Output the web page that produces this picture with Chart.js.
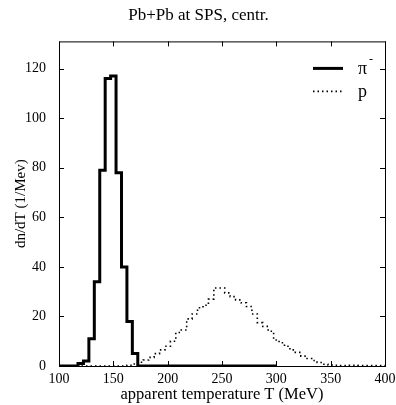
<!DOCTYPE html>
<html>
<head>
<meta charset="utf-8">
<script src="https://cdn.jsdelivr.net/npm/chart.js@4/dist/chart.umd.min.js"></script>
<style>
  body { margin: 0; background: #fff; }
  #wrap { width: 396px; height: 405px; }
</style>
</head>
<body>
<div id="wrap"><canvas id="grafica"></canvas></div>
<script>
// =============================
// Datos
// =============================
const tituloGrafica = "Pb+Pb at SPS, centr.";
const tituloX = "apparent temperature T (MeV)";
const tituloY = "dn/dT (1/Mev)";

const xTicks = [100, 150, 200, 250, 300, 350, 400];
const yTicks = [0, 20, 40, 60, 80, 100, 120];

// pi- (histograma, centros de bin en MeV)
const pionT = [100, 115, 120, 125, 130, 135, 140, 145, 150, 155, 160, 165, 170, 175, 300];
const pionN = [0, 0, 1, 2, 11, 34, 79, 116, 117, 78, 40, 18, 5, 0, 0];

// protones
const protonT = [100, 160, 165, 170, 175, 180, 185, 190, 195, 200, 205, 210, 215, 220, 225, 230,
  235, 240, 245, 250, 255, 260, 265, 270, 275, 280, 285, 290, 295, 300, 305, 310, 315, 320,
  325, 330, 335, 340, 345, 350, 355, 360, 370, 380, 390, 400];
const protonN = [0, 0, 0.3, 0.8, 1.5, 2.4, 3.5, 5, 6.5, 8, 10, 13.5, 14.5, 19, 21, 23.5,
  24.5, 27, 31.5, 31.5, 29.5, 28, 26.7, 25.5, 24, 21, 17.5, 16, 14, 10.5, 9.4, 8, 6.5, 5.5,
  4, 3, 2.2, 1.4, 0.7, 0.4, 0.3, 0.2, 0.3, 0.2, 0.2, 0.2];

const fuente = "'Liberation Serif', 'DejaVu Serif', serif";

// marco, marcas hacia dentro y leyenda
const marcoPlugin = {
  id: "marco",
  afterDatasetsDraw(chart) {
    const { ctx, chartArea: a, scales } = chart;
    ctx.save();
    ctx.strokeStyle = "#000";
    ctx.lineWidth = 1;
    ctx.strokeRect(a.left + 0.5, a.top + 0.5, a.right - a.left, a.bottom - a.top);
    ctx.beginPath();
    xTicks.forEach(v => {
      const x = Math.round(scales.x.getPixelForValue(v)) + 0.5;
      ctx.moveTo(x, a.bottom); ctx.lineTo(x, a.bottom - 5);
      ctx.moveTo(x, a.top); ctx.lineTo(x, a.top + 5);
    });
    yTicks.forEach(v => {
      const y = Math.round(scales.y.getPixelForValue(v)) + 0.5;
      ctx.moveTo(a.left, y); ctx.lineTo(a.left + 5, y);
      ctx.moveTo(a.right, y); ctx.lineTo(a.right - 5, y);
    });
    ctx.stroke();

    // leyenda
    const x0 = a.right - 72, x1 = a.right - 42;
    chart.data.datasets.forEach((ds, i) => {
      const y = a.top + 27 + i * 23;
      ctx.beginPath();
      ctx.lineWidth = ds.borderWidth;
      ctx.setLineDash(ds.borderDash || []);
      ctx.moveTo(x0, y); ctx.lineTo(x1, y);
      ctx.stroke();
      ctx.setLineDash([]);
      ctx.fillStyle = "#000";
      ctx.font = "18px " + fuente;
      ctx.textBaseline = "middle";
      ctx.fillText(ds.label, x1 + 15, y + 1);
      if (ds.sup) {
        ctx.font = "12px " + fuente;
        ctx.fillText(ds.sup, x1 + 26, y - 9);
      }
    });
    ctx.restore();
  }
};

const ctx = document.getElementById("grafica").getContext("2d");
new Chart(ctx, {
  type: "line",
  data: {
    datasets: [
      {
        label: "π",
        sup: "-",
        data: pionT.map((t, i) => ({ x: t, y: pionN[i] })),
        borderColor: "#000",
        borderWidth: 3,
        stepped: "middle",
        pointRadius: 0,
        fill: false
      },
      {
        label: "p",
        data: protonT.map((t, i) => ({ x: t, y: protonN[i] })),
        borderColor: "#000",
        borderWidth: 1.6,
        borderDash: [1.5, 3],
        stepped: "middle",
        pointRadius: 0,
        fill: false
      }
    ]
  },
  options: {
    responsive: true,
    maintainAspectRatio: false,
    animation: false,
    layout: { padding: { left: 12, right: 11, top: 0, bottom: 0 } },
    plugins: {
      legend: { display: false },
      tooltip: { enabled: false },
      title: {
        display: true,
        text: tituloGrafica,
        color: "#000",
        font: { family: fuente, size: 17, weight: "normal" },
        padding: { top: 5, bottom: 16 }
      }
    },
    scales: {
      x: {
        type: "linear",
        min: 100,
        max: 400,
        afterBuildTicks: s => { s.ticks = xTicks.map(v => ({ value: v })); },
        afterFit: s => { s.height = 39; },
        grid: { display: false },
        border: { display: false },
        ticks: { color: "#000", padding: -3, maxRotation: 0, font: { family: fuente, size: 14 } },
        title: {
          display: true,
          text: tituloX,
          color: "#000",
          padding: 0,
          font: { family: fuente, size: 16.5 }
        }
      },
      y: {
        min: 0,
        max: 131,
        afterBuildTicks: s => { s.ticks = yTicks.map(v => ({ value: v })); },
        afterFit: s => { s.width = 59 - 12; },
        grid: { display: false },
        border: { display: false },
        ticks: { color: "#000", padding: 5, font: { family: fuente, size: 14 } },
        title: {
          display: true,
          text: tituloY,
          color: "#000",
          padding: 0,
          font: { family: fuente, size: 15 }
        }
      }
    }
  },
  plugins: [marcoPlugin]
});
</script>
</body>
</html>
